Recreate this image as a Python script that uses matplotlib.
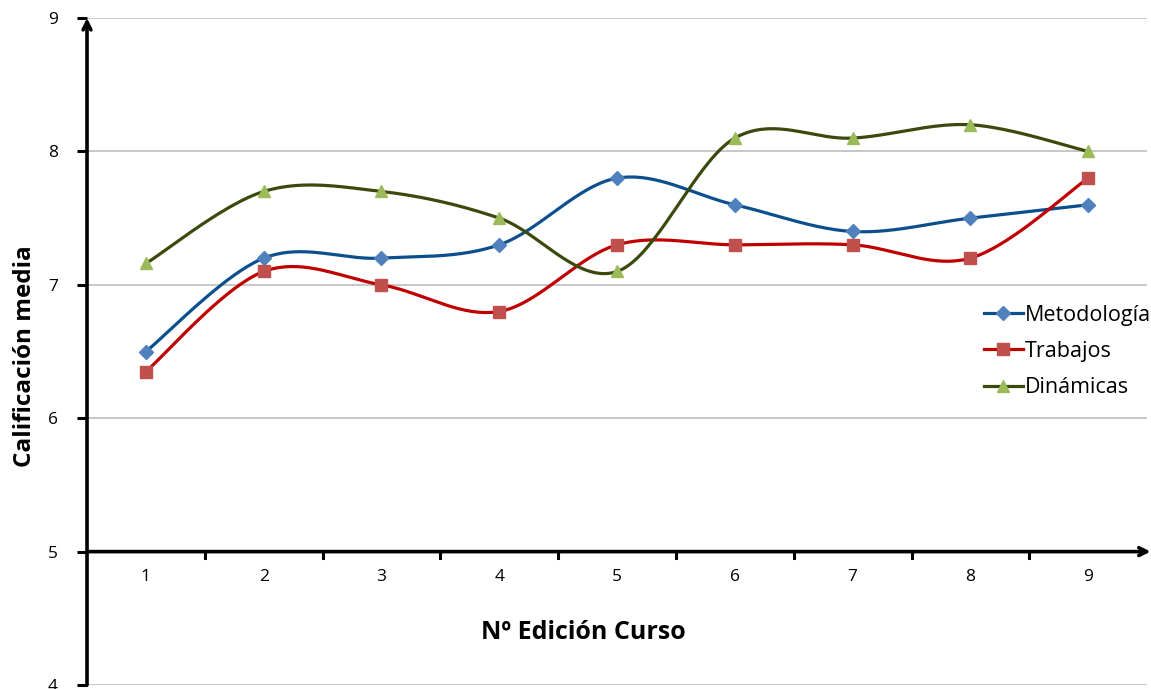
import numpy as np
import matplotlib
matplotlib.use("Agg")
import matplotlib.pyplot as plt

# values
ediciones = [1, 2, 3, 4, 5, 6, 7, 8, 9]
metodologia = [6.5, 7.2, 7.2, 7.3, 7.8, 7.6, 7.4, 7.5, 7.6]
trabajos = [6.35, 7.1, 7.0, 6.8, 7.3, 7.3, 7.3, 7.2, 7.8]
dinamicas = [7.16, 7.7, 7.7, 7.5, 7.1, 8.1, 8.1, 8.2, 8.0]


def smooth(x, y, n=40):
    # Excel-like smoothed line: Catmull-Rom style cubic Bezier between points
    x = np.asarray(x, float)
    y = np.asarray(y, float)
    px = np.concatenate([[x[0]], x, [x[-1]]])
    py = np.concatenate([[y[0]], y, [y[-1]]])
    xs, ys = [], []
    t = np.linspace(0, 1, n)
    for i in range(1, len(px) - 2):
        p0 = np.array([px[i], py[i]])
        p3 = np.array([px[i + 1], py[i + 1]])
        c1 = p0 + (p3 - np.array([px[i - 1], py[i - 1]])) / 6
        c2 = p3 - (np.array([px[i + 2], py[i + 2]]) - p0) / 6
        b = ((1 - t) ** 3)[:, None] * p0 + (3 * (1 - t) ** 2 * t)[:, None] * c1 \
            + (3 * (1 - t) * t ** 2)[:, None] * c2 + (t ** 3)[:, None] * p3
        xs.append(b[:, 0])
        ys.append(b[:, 1])
    return np.concatenate(xs), np.concatenate(ys)


plt.rcParams["font.family"] = ["Open Sans", "DejaVu Sans"]

fig = plt.figure(figsize=(11.51, 6.89), dpi=100)
ax = fig.add_axes([0.0756, 0.0058, 0.921, 0.968])
ax.set_xlim(0.5, 9.5)
ax.set_ylim(4, 9)

series = [
    ("Metodología", metodologia, "#0B4F8E", "#4F81BD", "D", 7),
    ("Trabajos", trabajos, "#C00000", "#C0504D", "s", 8),
    ("Dinámicas", dinamicas, "#3B4A0C", "#9BBB59", "^", 9),
]
for name, vals, lc, mc, mk, ms in series:
    sx, sy = smooth(ediciones, vals)
    ax.plot(sx, sy, color=lc, lw=2.3, zorder=3)
    ax.plot(ediciones, vals, ls="none", marker=mk, ms=ms, color=mc,
            markeredgecolor=mc, zorder=4)
    ax.plot([], [], color=lc, lw=2.3, marker=mk, ms=ms, markerfacecolor=mc,
            markeredgecolor=mc, label=name)

for v in [4, 6, 7, 8, 9]:
    ax.axhline(v, color="#BEBEBE", lw=1.2, zorder=1)

for s in ax.spines.values():
    s.set_visible(False)

# axes with arrow heads
ax.annotate("", xy=(0.5, 9.0), xytext=(0.5, 4.0),
            arrowprops=dict(arrowstyle="->", lw=2.6, color="black",
                            shrinkA=0, shrinkB=0, mutation_scale=14),
            annotation_clip=False, zorder=5)
ax.annotate("", xy=(9.53, 5.0), xytext=(0.5, 5.0),
            arrowprops=dict(arrowstyle="->", lw=2.6, color="black",
                            shrinkA=0, shrinkB=0, mutation_scale=14),
            annotation_clip=False, zorder=5)

# category boundary ticks on the x axis line
for b in np.arange(1.5, 9.5, 1.0):
    ax.plot([b, b], [5, 4.955], color="black", lw=2.2, zorder=5)

ax.set_yticks([4, 5, 6, 7, 8, 9])
ax.tick_params(axis="y", length=7, width=2.2, labelsize=12.5, pad=14)
ax.set_xticks([])
for e in ediciones:
    ax.text(e, 4.81, str(e), ha="center", va="center", fontsize=12.5)

ax.text(4.71, 4.39, "Nº Edición Curso", ha="center", va="center",
        fontsize=18, fontweight="bold")
fig.text(0.022, 0.483, "Calificación media", rotation=90, ha="center",
         va="center", fontsize=17.5, fontweight="bold")

ax.legend(loc="center left", bbox_to_anchor=(0.838, 0.5), frameon=False,
          fontsize=15.5, handlelength=1.8, handletextpad=0.1, labelspacing=0.7,
          borderaxespad=0)

fig.savefig("out.png", dpi=100)
